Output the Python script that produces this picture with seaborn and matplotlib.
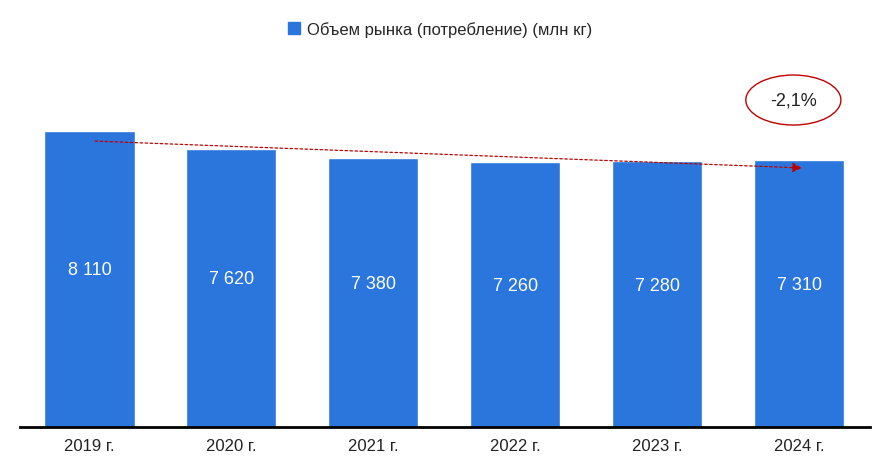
import matplotlib
matplotlib.use("Agg")
import matplotlib.pyplot as plt
import seaborn as sns
import pandas as pd
from matplotlib.patches import Ellipse, Patch

years = ["2019 г.", "2020 г.", "2021 г.", "2022 г.", "2023 г.", "2024 г."]
values = [8110, 7620, 7380, 7260, 7280, 7310]
labels = ["8 110", "7 620", "7 380", "7 260", "7 280", "7 310"]
series_name = "Объем рынка (потребление) (млн кг)"
change_label = "-2,1%"

sns.set_theme(style="white")
plt.rcParams['font.family'] = ['Liberation Sans Narrow', 'Liberation Sans', 'DejaVu Sans']
color = "#2A76DD"

fig = plt.figure(figsize=(8.8, 4.77), dpi=100)
ax = fig.add_axes([20/880, 1-428/477, 850/880, 368/477])
df = pd.DataFrame({"year": years, "value": values})
sns.barplot(data=df, x="year", y="value", color=color, saturation=1, width=0.635, ax=ax)
ax.set_xlim(-0.49, 5.5)
ax.set_ylim(0, 10083)
for i, (v, l) in enumerate(zip(values, labels)):
    ax.text(i, v/2 + 250, l, ha="center", va="center", color="white", fontsize=13)
ax.set_xlabel(""); ax.set_ylabel("")
ax.set_yticks([])
for s in ["top", "right", "left"]:
    ax.spines[s].set_visible(False)
ax.spines["bottom"].set_color("black"); ax.spines["bottom"].set_linewidth(2)
ax.tick_params(axis="x", labelsize=12, colors="#222222", pad=8, length=0)

ax.annotate("", xy=(5.04, values[-1]-214), xytext=(0.02, values[0]-274),
            arrowprops=dict(arrowstyle="-|>", color="#C00000", ls=(0, (2, 2)), lw=0.9,
                            mutation_scale=14))
ax.add_patch(Ellipse((4.96, 8959), 0.67, 1370, fill=False, edgecolor="#C00000", lw=1, clip_on=False))
ax.text(4.96, 8959, change_label, ha="center", va="center", fontsize=13, color="#222222")

fig.legend(handles=[Patch(color=color, label=series_name)], loc="center",
           bbox_to_anchor=(0.5, 1-30/477), frameon=False, fontsize=12,
           handlelength=0.7, handleheight=0.7, handletextpad=0.4)
fig.savefig("out.png", dpi=100)
